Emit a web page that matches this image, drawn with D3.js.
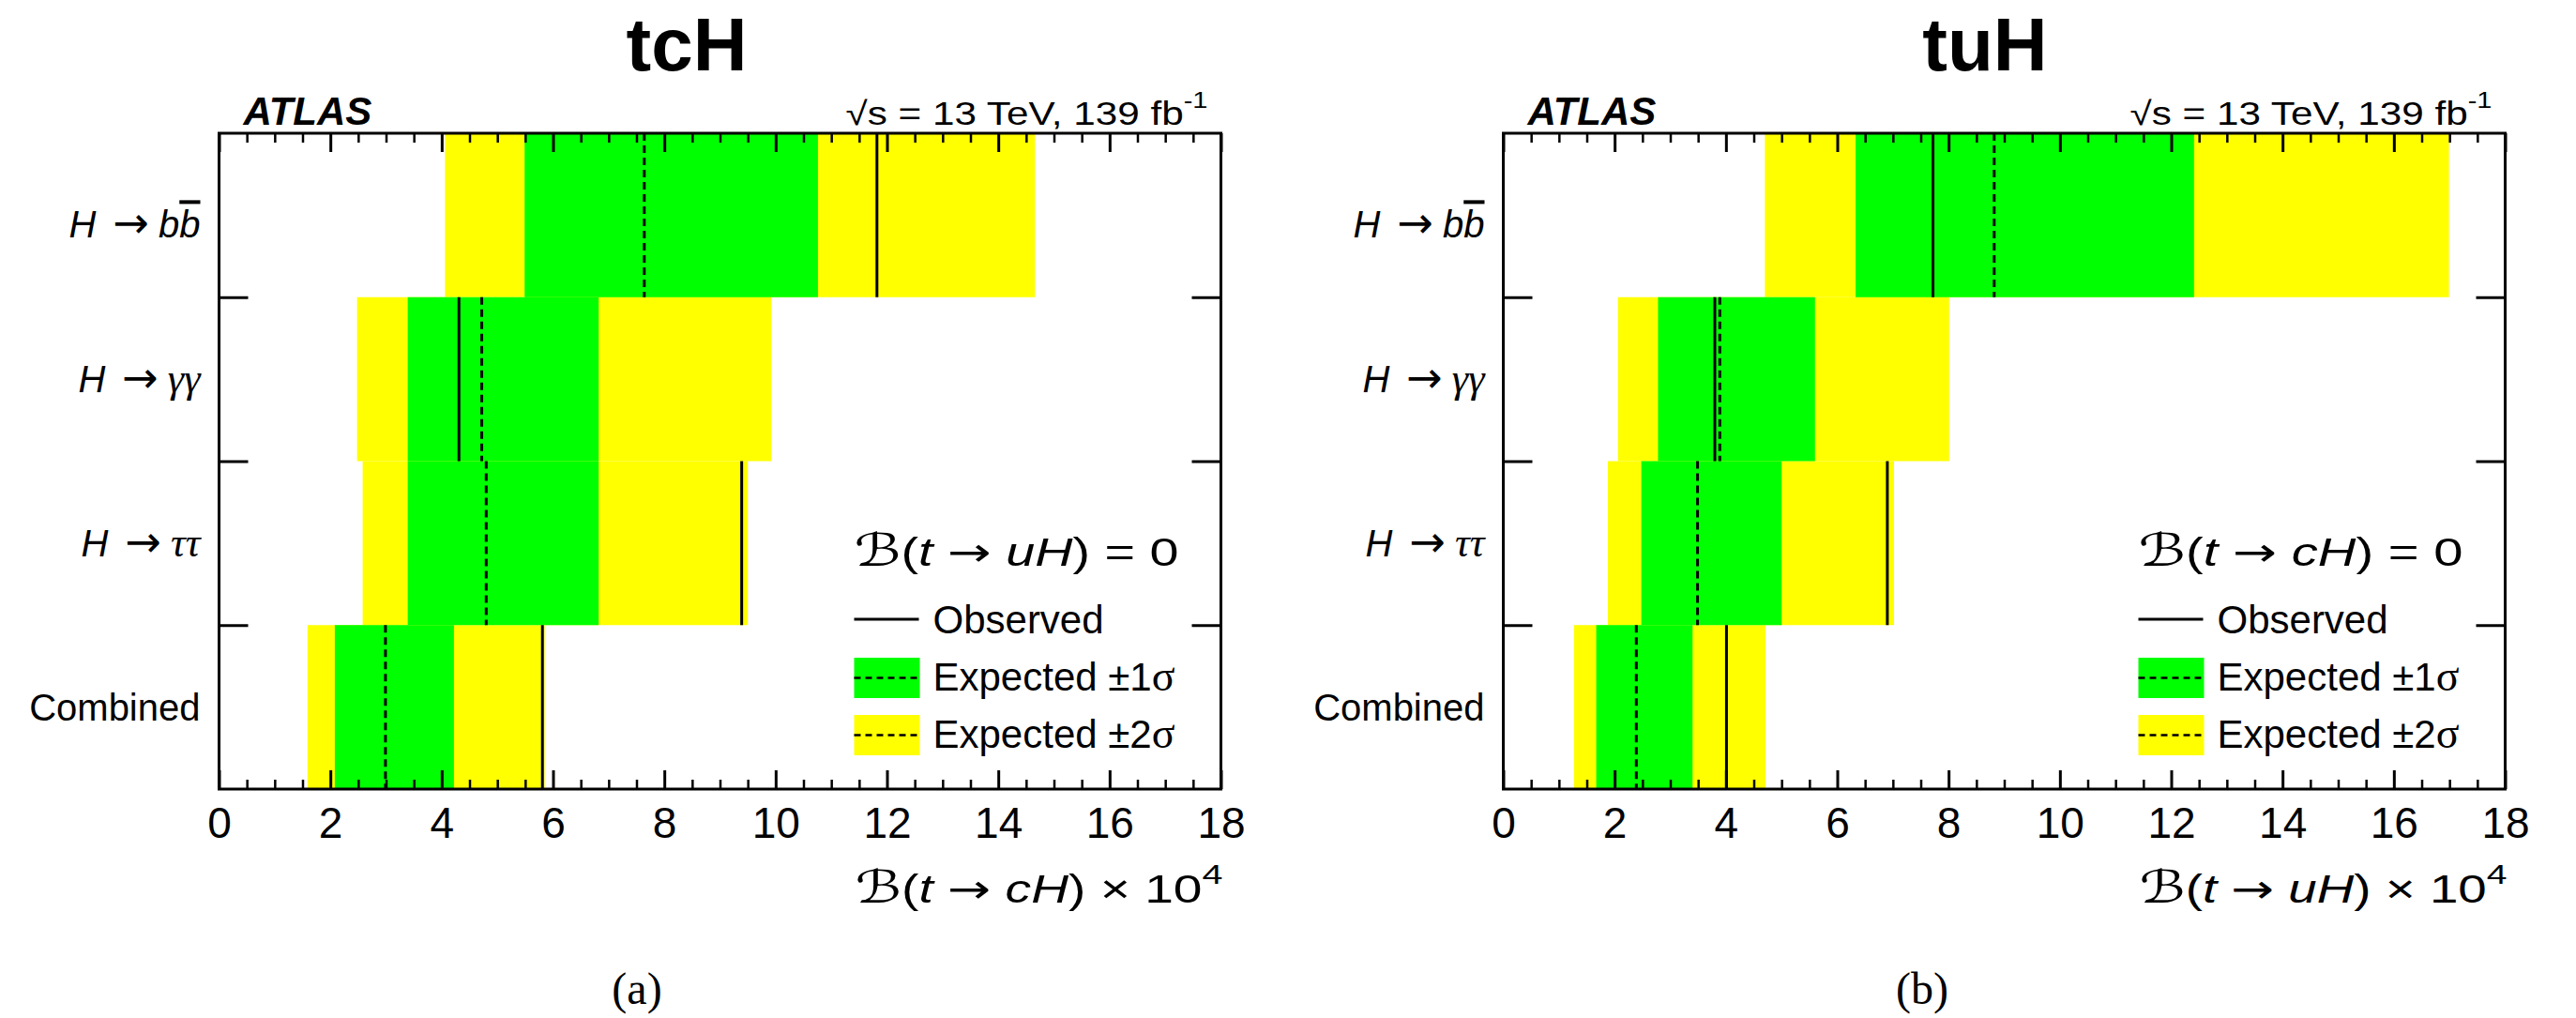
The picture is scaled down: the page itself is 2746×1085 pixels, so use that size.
<!DOCTYPE html>
<html>
<head>
<meta charset="utf-8">
<script src="https://cdn.jsdelivr.net/npm/d3@7"></script>
<style>
  html, body { margin: 0; padding: 0; background: #fff; }
  svg { display: block; }
  text { font-family: "Liberation Sans", Arial, Helvetica, sans-serif; fill: #000; }
</style>
</head>
<body>
<svg id="fig" width="2746" height="1085"></svg>
<script>
// ---- data: 95% CL upper limits on B(t -> qH) x 10^4 ----
const categories = ["H → bb̄", "H → γγ", "H → ττ", "Combined"];
const xTicks = [0, 2, 4, 6, 8, 10, 12, 14, 16, 18];

// t -> cH  (with B(t -> uH) = 0)
const tcH_observed = [11.82, 4.31, 9.39, 5.81];
const tcH_expected = [7.64, 4.72, 4.80, 2.99];
const tcH_minus1   = [5.49, 3.39, 3.39, 2.08];
const tcH_plus1    = [10.76, 6.82, 6.82, 4.22];
const tcH_minus2   = [4.06, 2.48, 2.58, 1.59];
const tcH_plus2    = [14.66, 9.92, 9.50, 5.85];

// t -> uH  (with B(t -> cH) = 0)
const tuH_observed = [7.72, 3.80, 6.90, 4.01];
const tuH_expected = [8.82, 3.89, 3.49, 2.39];
const tuH_minus1   = [6.33, 2.78, 2.48, 1.67];
const tuH_plus1    = [12.41, 5.60, 5.00, 3.40];
const tuH_minus2   = [4.70, 2.06, 1.88, 1.27];
const tuH_plus2    = [16.99, 8.01, 7.02, 4.71];

// ---- styling / layout ----
const YELLOW = "#ffff00", GREEN = "#00ff00";
const FRAME_W = 1068, TOP = 142, BOTTOM = 841;
const SANS = "'Liberation Sans', Arial, Helvetica, sans-serif";
const SERIF = "'Liberation Serif', 'Times New Roman', serif";
const SCRIPT = "'DejaVu Serif', 'DejaVu Sans', 'Noto Sans', serif";
const ARROW = "'DejaVu Sans', sans-serif";

const panels = [
  { title: "tcH", tag: "(a)", left: 233.5, titleX: 732, tagX: 679, self: "c", other: "u",
    obs: tcH_observed, exp: tcH_expected, m1: tcH_minus1, p1: tcH_plus1, m2: tcH_minus2, p2: tcH_plus2 },
  { title: "tuH", tag: "(b)", left: 1602.5, titleX: 2116, tagX: 2049, self: "u", other: "c",
    obs: tuH_observed, exp: tuH_expected, m1: tuH_minus1, p1: tuH_plus1, m2: tuH_minus2, p2: tuH_plus2 }
];

// rich-text pieces for the category labels
const labelParts = {
  "H → bb̄":   [{t: "H", it: 1}, {t: "→", arrow: 1, fs: 46, dx: 18}, {t: "b", it: 1, dx: 10}, {t: "b", it: 1, over: 1}],
  "H → γγ":   [{t: "H", it: 1}, {t: "→", arrow: 1, fs: 46, dx: 18}, {t: "γ", it: 1, serif: 1, dx: 10, fs: 44}, {t: "γ", it: 1, serif: 1, fs: 44}],
  "H → ττ":   [{t: "H", it: 1}, {t: "→", arrow: 1, fs: 46, dx: 18}, {t: "τ", it: 1, serif: 1, dx: 10, fs: 44}, {t: "τ", it: 1, serif: 1, fs: 44}],
  "Combined": [{t: "Combined"}]
};

const svg = d3.select("#fig");

function rich(textSel, parts) {
  parts.forEach(p => {
    const ts = textSel.append("tspan").text(p.t);
    if (p.it) ts.style("font-style", "italic");
    if (p.serif) ts.style("font-family", SERIF);
    if (p.script) ts.style("font-family", SCRIPT).style("font-style", "italic");
    if (p.arrow) ts.style("font-family", ARROW);
    if (p.fs) ts.style("font-size", p.fs + "px");
    if (p.dx) ts.attr("dx", p.dx);
    if (p.dy) ts.attr("dy", p.dy);
    if (p.over) ts.style("text-decoration", "overline");
  });
  return textSel;
}

// stretch a text horizontally so that its box spans [x0, x1]
function fitWidth(textSel, x0, x1) {
  const bb = textSel.node().getBBox();
  const sx = (x1 - x0) / bb.width;
  textSel.attr("transform", `translate(${x0},0) scale(${sx},1) translate(${-bb.x},0)`);
}

function styleAxis(sel, width) {
  sel.select(".domain").remove();
  sel.selectAll(".tick line").attr("stroke", "#000").attr("stroke-width", width);
}

panels.forEach(p => {
  const g = svg.append("g");
  const right = p.left + FRAME_W;
  const x = d3.scaleLinear().domain([0, 18]).range([p.left, right]);
  const y = d3.scaleBand().domain(categories).range([TOP, BOTTOM]).padding(0);
  const yEdge = d3.scaleLinear().domain([0, categories.length]).range([TOP, BOTTOM]);

  const rows = categories.map((c, i) => ({
    c, obs: p.obs[i], exp: p.exp[i], m1: p.m1[i], p1: p.p1[i], m2: p.m2[i], p2: p.p2[i]
  }));

  // +-2 sigma band
  g.append("g").selectAll("rect").data(rows).join("rect")
    .attr("x", d => x(d.m2)).attr("width", d => x(d.p2) - x(d.m2))
    .attr("y", d => y(d.c)).attr("height", y.bandwidth())
    .attr("fill", YELLOW);
  // +-1 sigma band
  g.append("g").selectAll("rect").data(rows).join("rect")
    .attr("x", d => x(d.m1)).attr("width", d => x(d.p1) - x(d.m1))
    .attr("y", d => y(d.c)).attr("height", y.bandwidth())
    .attr("fill", GREEN);
  // expected limit
  g.append("g").selectAll("line").data(rows).join("line")
    .attr("x1", d => x(d.exp)).attr("x2", d => x(d.exp))
    .attr("y1", d => y(d.c)).attr("y2", d => y(d.c) + y.bandwidth())
    .attr("stroke", "#000").attr("stroke-width", 3).attr("stroke-dasharray", "8,5");
  // observed limit
  g.append("g").selectAll("line").data(rows).join("line")
    .attr("x1", d => x(d.obs)).attr("x2", d => x(d.obs))
    .attr("y1", d => y(d.c)).attr("y2", d => y(d.c) + y.bandwidth())
    .attr("stroke", "#000").attr("stroke-width", 3);

  // axes: ticks point inward
  const minor = d3.range(0, 18.001, 0.5).filter(v => !xTicks.includes(v));
  const bottomAx = g.append("g").attr("transform", `translate(0,${BOTTOM})`)
    .call(d3.axisBottom(x).tickValues(xTicks).tickSize(-20).tickSizeOuter(0)
      .tickPadding(19).tickFormat(d3.format("d")));
  styleAxis(bottomAx, 3);
  bottomAx.selectAll("text").style("font-size", "46px").style("font-family", SANS).style("fill", "#000");
  styleAxis(g.append("g").attr("transform", `translate(0,${BOTTOM})`)
    .call(d3.axisBottom(x).tickValues(minor).tickSize(-10).tickSizeOuter(0).tickFormat("")), 2.5);
  styleAxis(g.append("g").attr("transform", `translate(0,${TOP})`)
    .call(d3.axisTop(x).tickValues(xTicks).tickSize(-20).tickSizeOuter(0).tickFormat("")), 3);
  styleAxis(g.append("g").attr("transform", `translate(0,${TOP})`)
    .call(d3.axisTop(x).tickValues(minor).tickSize(-10).tickSizeOuter(0).tickFormat("")), 2.5);
  styleAxis(g.append("g").attr("transform", `translate(${p.left},0)`)
    .call(d3.axisLeft(yEdge).tickValues([1, 2, 3]).tickSize(-31).tickSizeOuter(0).tickFormat("")), 3);
  styleAxis(g.append("g").attr("transform", `translate(${right},0)`)
    .call(d3.axisRight(yEdge).tickValues([1, 2, 3]).tickSize(-31).tickSizeOuter(0).tickFormat("")), 3);

  // frame
  g.append("rect").attr("x", p.left).attr("y", TOP).attr("width", FRAME_W).attr("height", BOTTOM - TOP)
    .attr("fill", "none").attr("stroke", "#000").attr("stroke-width", 3);

  // category labels
  categories.forEach(c => {
    const parts = labelParts[c];
    const hasBar = parts.some(q => q.over);
    const t = g.append("text")
      .attr("x", p.left - 20)
      .attr("y", y(c) + y.bandwidth() / 2 + 14 + (hasBar ? 10 : 0))
      .attr("text-anchor", "end").style("font-size", "40px");
    rich(t, parts);
  });

  // axis title
  const at = g.append("text").attr("y", 962).style("font-size", "42px");
  rich(at, [
    {t: "ℬ", script: 1, fs: 48}, {t: "("}, {t: "t", it: 1}, {t: " "}, {t: "→", arrow: 1}, {t: " "},
    {t: p.self + "H", it: 1}, {t: ")"}, {t: " × 10"}, {t: "4", fs: 30, dy: -20}
  ]);
  fitWidth(at, right - 390, right + 2);

  // ATLAS label and energy / luminosity
  g.append("text").attr("x", p.left + 26).attr("y", 133)
    .style("font-size", "42px").style("font-weight", "bold").style("font-style", "italic").text("ATLAS");
  const lum = g.append("text").attr("y", 133).style("font-size", "35px");
  rich(lum, [{t: "√s = 13 TeV, 139 fb"}, {t: "-1", fs: 24, dy: -18}]);
  fitWidth(lum, right - 400, right - 14);

  // legend
  const lx = right - 391;
  const lh = g.append("text").attr("y", 603).style("font-size", "42px");
  rich(lh, [
    {t: "ℬ", script: 1, fs: 48}, {t: "("}, {t: "t", it: 1}, {t: " "}, {t: "→", arrow: 1}, {t: " "},
    {t: p.other + "H", it: 1}, {t: ") = 0"}
  ]);
  fitWidth(lh, lx, lx + 346);

  g.append("line").attr("x1", lx).attr("x2", lx + 69).attr("y1", 660).attr("y2", 660)
    .attr("stroke", "#000").attr("stroke-width", 3);
  g.append("text").attr("x", lx + 84).attr("y", 675).style("font-size", "42px").text("Observed");

  [[GREEN, 701, "1"], [YELLOW, 762, "2"]].forEach(([col, yy, n]) => {
    g.append("rect").attr("x", lx).attr("y", yy).attr("width", 70).attr("height", 43).attr("fill", col);
    g.append("line").attr("x1", lx).attr("x2", lx + 70).attr("y1", yy + 21.5).attr("y2", yy + 21.5)
      .attr("stroke", "#000").attr("stroke-width", 2.5).attr("stroke-dasharray", "7,5");
    const t = g.append("text").attr("x", lx + 84).attr("y", yy + 35).style("font-size", "42px");
    rich(t, [{t: "Expected ±" + n}, {t: "σ", serif: 1, fs: 46}]);
  });

  // panel title and sub-figure tag
  g.append("text").attr("x", p.titleX).attr("y", 75).attr("text-anchor", "middle")
    .style("font-size", "80px").style("font-weight", "bold").text(p.title);
  g.append("text").attr("x", p.tagX).attr("y", 1070).attr("text-anchor", "middle")
    .style("font-size", "48px").style("font-family", SERIF).text(p.tag);
});
</script>
</body>
</html>
